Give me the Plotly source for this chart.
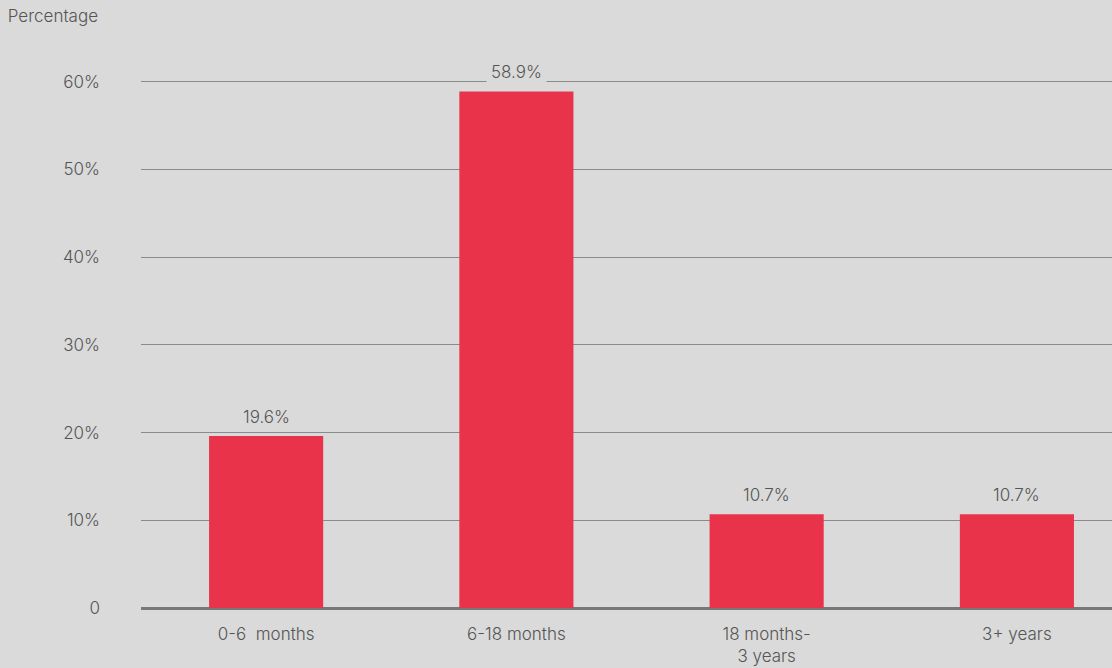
import plotly.graph_objects as go

categories = ["0-6  months", "6-18 months", "18 months-<br>3 years", "3+ years"]
values = [19.6, 58.9, 10.7, 10.7]
labels = ["19.6%", "58.9%", "10.7%", "10.7%"]
tick_vals = [0, 10, 20, 30, 40, 50, 60]
tick_text = ["0", "10%", "20%", "30%", "40%", "50%", "60%"]

BG = "#dadada"
RED = "#e8334a"
TXT = "#555555"
FONT = "Inter"
FS = 17
FW = 300

def f():
    return dict(family=FONT, size=FS, color=TXT, weight=FW)

fig = go.Figure()
fig.add_trace(go.Bar(
    x=categories, y=values, marker=dict(color=RED, line=dict(width=0)),
    width=0.456, hoverinfo="skip",
))

for c, v, t in zip(categories, values, labels):
    fig.add_annotation(
        x=c, y=v, text=t, showarrow=False, yanchor="bottom", yshift=4,
        bgcolor=BG, borderpad=4, font=f(),
    )

fig.update_layout(
    width=1112, height=668,
    paper_bgcolor=BG, plot_bgcolor=BG,
    margin=dict(l=141, r=0, t=38, b=60),
    showlegend=False,
    font=f(),
    title=dict(text="Percentage", xref="container", yref="container",
               x=0.007, y=1 - 16 / 668, xanchor="left", yanchor="middle",
               font=f()),
    bargap=0.5,
)
fig.update_xaxes(
    range=[-0.5, 3.38], showgrid=False, showline=False, ticks="",
    ticklabelstandoff=14, tickfont=f(),
)
fig.update_yaxes(
    range=[0, 65], tickvals=tick_vals, ticktext=tick_text,
    showgrid=True, gridcolor="#8a8a8a", gridwidth=1,
    zeroline=True, zerolinecolor="#777777", zerolinewidth=3,
    showline=False, ticks="", ticklabelstandoff=40,
    tickfont=f(),
)

fig.write_html("out.html")
